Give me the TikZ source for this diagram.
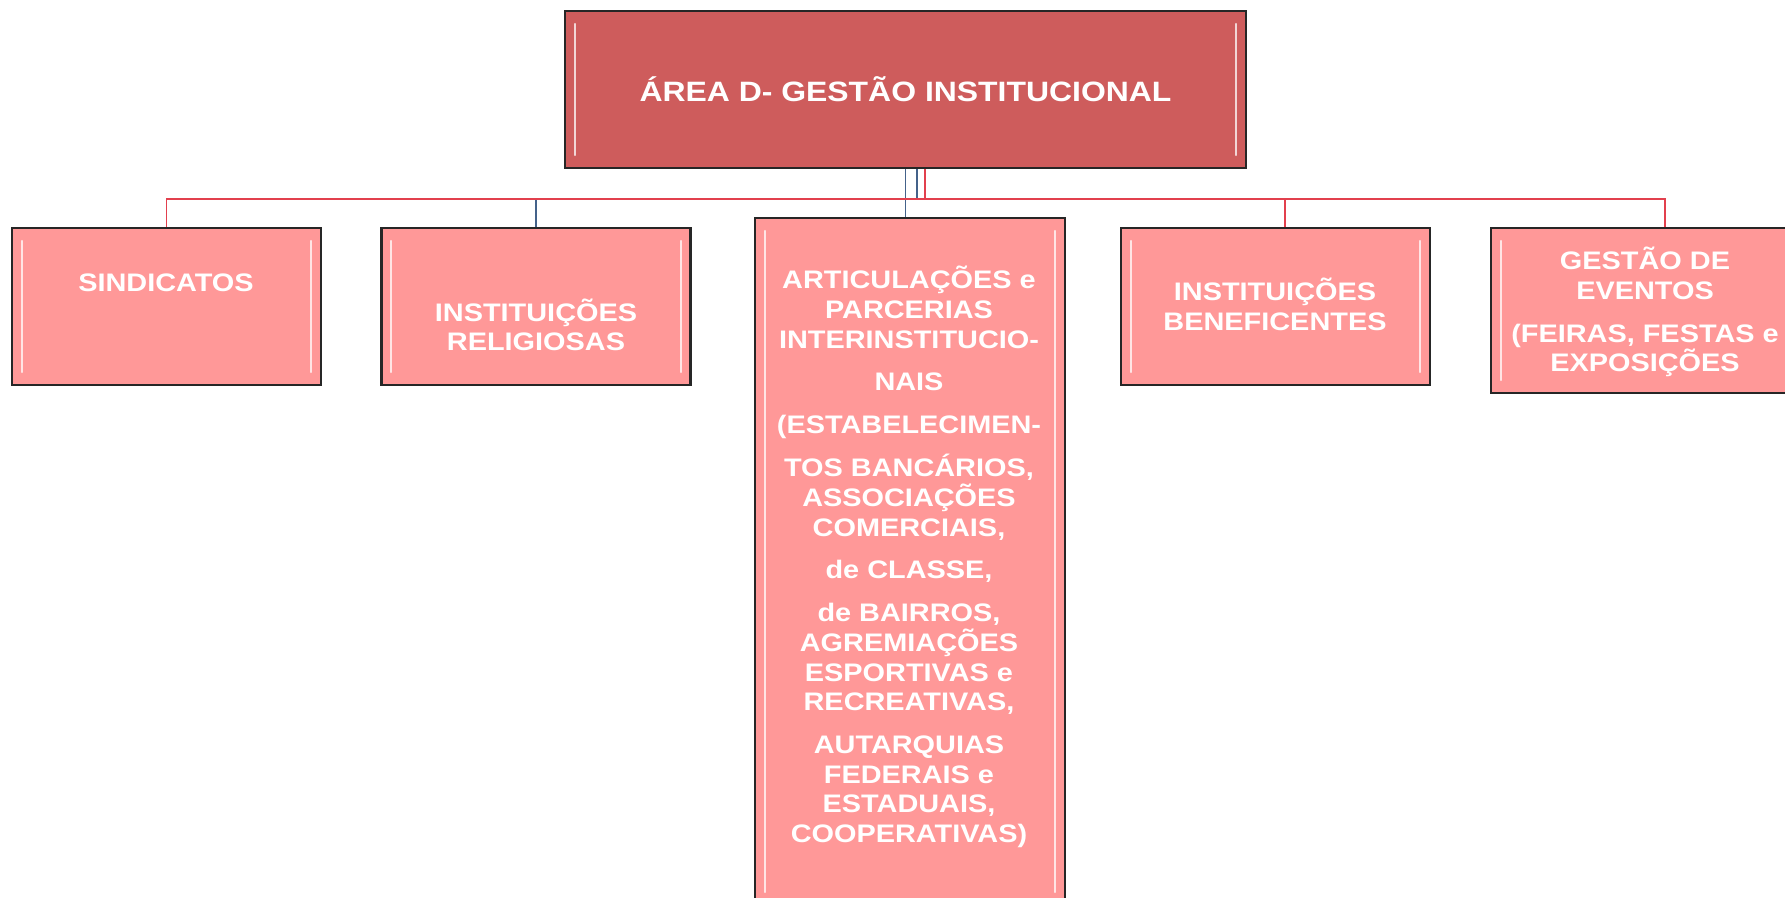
\documentclass[tikz,border=0pt]{standalone}
\usepackage{fontspec}
\setmainfont{Liberation Sans}[FakeStretch=1.14]
\usetikzlibrary{calc}

\definecolor{topred}{RGB}{206,92,92}
\definecolor{boxpink}{RGB}{255,152,152}
\definecolor{lnred}{RGB}{226,64,78}
\definecolor{lnblue}{RGB}{68,98,138}

\tikzset{
  box/.style={draw=black!85, line width=1.6pt, fill=boxpink, inner sep=0pt,
    minimum width=231.75pt, minimum height=117.75pt},
  lbl/.style={text=white, font=\fontsize{19}{22.2}\selectfont\bfseries,
    align=center, inner sep=0pt},
  hilite/.style={draw=white, line width=1.5pt, opacity=.75, line cap=round},
  redln/.style={draw=lnred, line width=1.3pt},
  blueln/.style={draw=lnblue, line width=1.3pt}
}

\begin{document}
\begin{tikzpicture}[x=0.75pt,y=0.75pt,yscale=-1,xscale=1]
\clip (0,0) rectangle (1785,897);

%Shape: Rectangle [top]
\node [box, fill=topred, minimum width=510.75pt] (top) at (905.5,89.5)
  {\fontsize{21}{24}\selectfont\bfseries\color{white}ÁREA D- GESTÃO INSTITUCIONAL};
%Shape: Rectangle [children]
\node [box] (sind) at (166.5,306.5) {};
\node [box] (relig) at (536,306.5) {};
\node [box, minimum width=232.5pt, minimum height=515.25pt] (artic) at (910,561.5) {};
\node [box] (benef) at (1275.5,306.5) {};
\node [box, minimum width=229.5pt, minimum height=123.75pt] (evt) at (1644,310.5) {};

%Bevel lines
\foreach \n in {top,sind,relig,artic,benef,evt} {
  \draw [hilite] ($(\n.north west)+(11,14)$) -- ($(\n.south west)+(11,-14)$);
  \draw [hilite] ($(\n.north east)+(-11,14)$) -- ($(\n.south east)+(-11,-14)$);
}

%Straight Lines
\draw [blueln] (top.south) -- (top.south |- artic.north);
\draw [blueln] ([xshift=8.6pt]top.south) -- ++(0,30) -| (relig.north);
\draw [redln] ([xshift=14.6pt]top.south) -- ++(0,30) -| (sind.north);
\draw [redln] ([xshift=14.6pt]top.south) -- ++(0,30) -| ([xshift=7.1pt]benef.north);
\draw [redln] ([xshift=14.6pt]top.south) -- ++(0,30) -| ([xshift=15.75pt]evt.north);

% Text Node
\node [lbl] (sindtxt) at (166,283) {SINDICATOS};
% Text Node
\node [lbl] (religtxt) at (536,325) {INSTITUIÇÕES\\RELIGIOSAS};
% Text Node
\node [lbl] (artictxt) at (909,557) {ARTICULAÇÕES e\\PARCERIAS\\INTERINSTITUCIO-\\[10pt]NAIS\\[10pt]
  (ESTABELECIMEN-\\[10pt]TOS BANCÁRIOS,\\ASSOCIAÇÕES\\COMERCIAIS,\\[10pt]de CLASSE,\\[10pt]
  de BAIRROS,\\AGREMIAÇÕES\\ESPORTIVAS e\\RECREATIVAS,\\[10pt]AUTARQUIAS\\FEDERAIS e\\
  ESTADUAIS,\\COOPERATIVAS)};
% Text Node
\node [lbl] (beneftxt) at (1275,304.5) {INSTITUIÇÕES\\BENEFICENTES};
% Text Node
\node [lbl] (evttxt) at (1645,312) {GESTÃO DE\\EVENTOS\\[10pt](FEIRAS, FESTAS e\\EXPOSIÇÕES};

\end{tikzpicture}
\end{document}
